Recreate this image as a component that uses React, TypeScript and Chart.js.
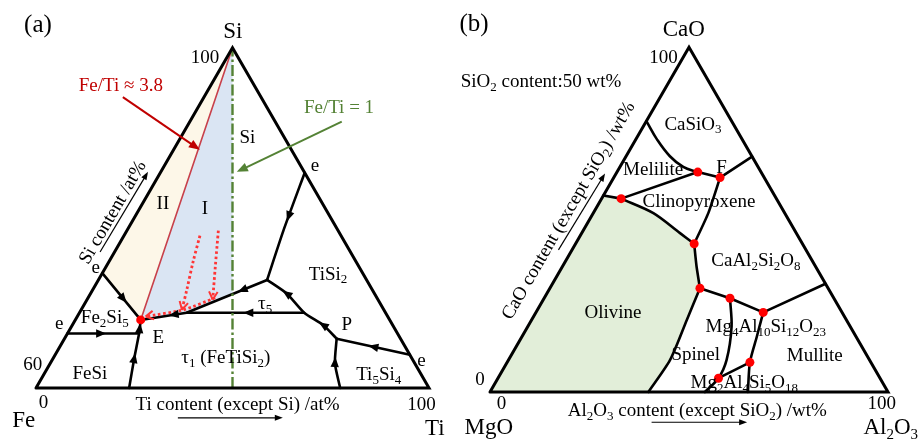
import React, { useEffect, useRef } from "react";
import { Chart, registerables } from "chart.js";

Chart.register(...registerables);

type Pt = [number, number];
type XY = { x: number; y: number };

const SERIF = '"Liberation Serif", "Times New Roman", serif';
const S3 = Math.sqrt(3) / 2;

const BLACK = "#000000";
const RED_TEXT = "#c00000";
const RED_LINE = "#c8404a";
const RED_PATH = "#ff3535";
const RED_DOT = "#ff0000";
const GREEN = "#548235";
const BLUE_FILL = "#dae5f3";
const CREAM_FILL = "#fdf7e8";
const OLIVINE_FILL = "#e2eed9";

// ===== (a) Fe–Ti–Si, Si-rich corner (Si 60–100 at%) =====
// point = [Ti content except Si (at%), Si content (at%)]
const FE_TI_SI_EDGES: Pt[] = [[0, 60], [100, 60], [50, 100], [0, 60]];
const FE_TI_RATIO_38: Pt[] = [[20.8, 68.0], [20.8, 100]];
const FE_TI_RATIO_1: Pt[] = [[50, 60], [50, 100]];

const E1_TO_E: Pt[] = [[0, 73.5], [20.8, 68.0]];
const E2_TO_FESI: Pt[] = [[0, 66.4], [21.7, 66.4]];
const FESI_TAU1: Pt[] = [[23.7, 60], [22.6, 63.5], [21.7, 66.4], [20.8, 68.0]];
const TAU5_TO_E: Pt[] = [[62.9, 72.7], [35.0, 68.85], [20.8, 68.0]];
const TAU5_TAU1: Pt[] = [[73.4, 68.85], [35.0, 68.85]];
const P_TO_TAU5: Pt[] = [[81.0, 65.8], [78.3, 67.4], [73.4, 68.85], [69.1, 71.1], [62.9, 72.7]];
const E3_TO_P: Pt[] = [[100, 63.9], [81.0, 65.8]];
const TI5SI4_TO_P: Pt[] = [[77.4, 60], [78.1, 62.9], [81.0, 65.8]];
const E4_TO_TAU5: Pt[] = [[100, 85.3], [74.1, 78.5], [62.9, 72.7]];

const SOLIDIFICATION_PATH_1: Pt[] = [[35.0, 77.9], [34.05, 74.8], [33.65, 71.5], [33.3, 69.2]];
const SOLIDIFICATION_PATH_2: Pt[] = [[43.3, 78.5], [43.2, 74.4], [43.2, 70.4]];
const SOLIDIFICATION_PATH_3: Pt[] = [[44.0, 70.6], [34.0, 69.2], [22.0, 68.4]];

const EUTECTIC_E: Pt[] = [[20.8, 68.0]];
const REGION_I: Pt[] = [[50, 100], [20.8, 68.0], [35.0, 68.85], [50, 70.9]];
const REGION_II: Pt[] = [[50, 100], [0, 73.5], [20.8, 68.0]];

// ===== (b) CaO–MgO–Al2O3 section at 50 wt% SiO2 =====
// point = [Al2O3 content except SiO2 (wt%), CaO content except SiO2 (wt%)]
const CMA_EDGES: Pt[] = [[0, 0], [100, 0], [0, 100], [0, 0]];
const CASIO3_ARC: Pt[] = [[0, 78.6], [5.3, 73.3], [11.0, 68.4], [15.9, 65.3], [20.3, 63.8]];
const MELILITE_F: Pt[] = [[20.3, 63.8], [26.7, 62.2]];
const F_TO_EDGE: Pt[] = [[26.7, 62.2], [31.7, 68.3]];
const EDGE_TO_D2: Pt[] = [[0, 57.0], [4.9, 56.1]];
const D2_TO_MELILITE: Pt[] = [[4.9, 56.1], [20.3, 63.8]];
const D2_TO_D3: Pt[] = [[4.9, 56.1], [15.1, 51.9], [24.7, 46.1], [29.8, 43.0]];
const F_TO_D3: Pt[] = [[26.7, 62.2], [28.9, 51.9], [29.8, 43.0]];
const D3_TO_D4: Pt[] = [[29.8, 43.0], [33.7, 36.4], [37.7, 30.1]];
const D4_TO_BASE: Pt[] = [[37.7, 30.1], [39.0, 20.9], [40.6, 9.3], [39.8, 0]];
const D4_TO_D6: Pt[] = [[37.7, 30.1], [46.7, 27.2], [57.1, 23.1]];
const D6_TO_EDGE: Pt[] = [[57.1, 23.1], [68.6, 31.4]];
const D5_TO_BASE: Pt[] = [[46.7, 27.2], [51.2, 19.0], [54.8, 9.3], [55.4, 4.0], [54.0, 0]];
const D6_TO_BASE: Pt[] = [[57.1, 23.1], [59.0, 16.1], [61.0, 8.6], [64.8, 0]];
const D8_TO_D7: Pt[] = [[61.0, 8.6], [55.4, 4.0]];
const INVARIANT_POINTS: Pt[] = [
  [20.3, 63.8], [26.7, 62.2], [4.9, 56.1], [29.8, 43.0], [37.7, 30.1],
  [46.7, 27.2], [57.1, 23.1], [61.0, 8.6], [55.4, 4.0],
];
const OLIVINE_FIELD: Pt[] = [
  [0, 0], [0, 57.0], [4.9, 56.1], [15.1, 51.9], [24.7, 46.1], [29.8, 43.0],
  [33.7, 36.4], [37.7, 30.1], [39.0, 20.9], [40.6, 9.3], [39.8, 0],
];

// ---------- projections onto an equilateral triangle of unit side ----------
const feTiSiXY = ([ti, si]: Pt): XY => {
  const h = (si - 60) / 40;
  return { x: (ti / 100) * (1 - h) + 0.5 * h, y: h * S3 };
};
const cmaXY = ([al, ca]: Pt): XY => {
  const c = ca / 100;
  return { x: al / 100 + 0.5 * c, y: c * S3 };
};

type LineSpec = { pts: Pt[]; color: string; width: number; dash?: number[]; tension?: number; join?: CanvasLineJoin; cap?: CanvasLineCap };
type FlowSpec = { pts: Pt[]; at: number[] };
type PolySpec = { pts: Pt[]; color: string };
type AnnotSpec = { from: [number, number]; to: [number, number]; color: string; width: number; head: number; half: number };
type LabelSpec = { text: string; x: number; y: number; size?: number; color?: string; rot?: number };

type PanelSpec = {
  width: number; height: number; left: number;
  originX: number; baseY: number; side: number;
  toXY: (p: Pt) => XY;
  polys: PolySpec[];
  lines: LineSpec[];
  flows: FlowSpec[];
  paths: Pt[][];
  dots: Pt[];
  dotRadius: number;
  annots: AnnotSpec[];
  labels: LabelSpec[];
};

const boundary = (pts: Pt[], tension = 0.2): LineSpec => ({ pts, color: BLACK, width: 2.6, tension });

const PANEL_A: PanelSpec = {
  width: 460, height: 440, left: 0,
  originX: 36, baseY: 388, side: 393,
  toXY: feTiSiXY,
  polys: [
    { pts: REGION_II, color: CREAM_FILL },
    { pts: REGION_I, color: BLUE_FILL },
  ],
  lines: [
    { pts: FE_TI_RATIO_38, color: RED_LINE, width: 1.6 },
    boundary(E1_TO_E, 0),
    boundary(E2_TO_FESI, 0),
    boundary(FESI_TAU1),
    boundary(TAU5_TO_E, 0),
    boundary(TAU5_TAU1, 0),
    boundary(P_TO_TAU5),
    boundary(E3_TO_P, 0),
    boundary(TI5SI4_TO_P),
    boundary(E4_TO_TAU5),
    { pts: FE_TI_RATIO_1, color: GREEN, width: 2.4, dash: [11, 3, 2.5, 3], cap: "butt" },
    { pts: SOLIDIFICATION_PATH_1, color: RED_PATH, width: 2.8, dash: [2.6, 2.6], tension: 0.3, cap: "butt" },
    { pts: SOLIDIFICATION_PATH_2, color: RED_PATH, width: 2.8, dash: [2.6, 2.6], tension: 0.3, cap: "butt" },
    { pts: SOLIDIFICATION_PATH_3, color: RED_PATH, width: 2.8, dash: [2.6, 2.6], tension: 0.2, cap: "butt" },
    { pts: FE_TI_SI_EDGES, color: BLACK, width: 3, join: "miter" },
  ],
  flows: [
    { pts: E1_TO_E, at: [0.55] },
    { pts: E2_TO_FESI, at: [0.47] },
    { pts: FESI_TAU1, at: [0.44, 0.88] },
    { pts: TAU5_TO_E, at: [0.2, 0.75] },
    { pts: TAU5_TAU1, at: [0.475] },
    { pts: P_TO_TAU5, at: [0.21, 0.74] },
    { pts: E3_TO_P, at: [0.5] },
    { pts: TI5SI4_TO_P, at: [0.53] },
    { pts: E4_TO_TAU5, at: [0.41] },
  ],
  paths: [SOLIDIFICATION_PATH_1, SOLIDIFICATION_PATH_2, SOLIDIFICATION_PATH_3],
  dots: EUTECTIC_E,
  dotRadius: 4.5,
  annots: [
    { from: [0.221, 0.74], to: [0.417, 0.606], color: RED_TEXT, width: 2, head: 11, half: 4.5 },
    { from: [0.778, 0.678], to: [0.511, 0.55], color: GREEN, width: 2, head: 11, half: 4.5 },
    { from: [0.163, 0.346], to: [0.285, 0.55], color: BLACK, width: 1.2, head: 8, half: 3 },
    { from: [0.361, -0.076], to: [0.628, -0.076], color: BLACK, width: 1.2, head: 8, half: 3 },
  ],
  labels: [
    { text: "(a)", x: 0.005, y: 0.926, size: 25 },
    { text: "Si", x: 0.501, y: 0.911, size: 23 },
    { text: "100", x: 0.43, y: 0.843 },
    { text: "Fe/Ti ≈ 3.8", x: 0.216, y: 0.771, color: RED_TEXT },
    { text: "Fe/Ti = 1", x: 0.771, y: 0.715, color: GREEN },
    { text: "Si", x: 0.538, y: 0.64 },
    { text: "e", x: 0.71, y: 0.567 },
    { text: "II", x: 0.323, y: 0.471 },
    { text: "I", x: 0.43, y: 0.458 },
    { text: "e", x: 0.152, y: 0.309 },
    { text: "Fe_{2}Si_{5}", x: 0.175, y: 0.181 },
    { text: "e", x: 0.059, y: 0.166 },
    { text: "E", x: 0.311, y: 0.131 },
    { text: "τ_{5}", x: 0.583, y: 0.216 },
    { text: "TiSi_{2}", x: 0.743, y: 0.292 },
    { text: "P", x: 0.791, y: 0.163 },
    { text: "e", x: 0.981, y: 0.071 },
    { text: "τ_{1} (FeTiSi_{2})", x: 0.483, y: 0.08 },
    { text: "FeSi", x: 0.137, y: 0.039 },
    { text: "Ti_{5}Si_{4}", x: 0.872, y: 0.036 },
    { text: "60", x: -0.008, y: 0.063 },
    { text: "0", x: 0.019, y: -0.035 },
    { text: "100", x: 0.981, y: -0.039 },
    { text: "Ti content (except Si) /at%", x: 0.513, y: -0.039 },
    { text: "Fe", x: -0.031, y: -0.081, size: 23 },
    { text: "Ti", x: 1.015, y: -0.1, size: 23 },
    { text: "Si content /at%", x: 0.193, y: 0.448, rot: -60 },
  ],
};

const PANEL_B: PanelSpec = {
  width: 459, height: 440, left: 460,
  originX: 30, baseY: 392, side: 398,
  toXY: cmaXY,
  polys: [{ pts: OLIVINE_FIELD, color: OLIVINE_FILL }],
  lines: [
    boundary(CASIO3_ARC, 0.4),
    boundary(MELILITE_F, 0),
    boundary(F_TO_EDGE, 0),
    boundary(EDGE_TO_D2, 0),
    boundary(D2_TO_MELILITE, 0),
    boundary(D2_TO_D3, 0.3),
    boundary(F_TO_D3, 0.2),
    boundary(D3_TO_D4, 0.2),
    boundary(D4_TO_BASE, 0.25),
    boundary(D4_TO_D6, 0),
    boundary(D6_TO_EDGE, 0),
    boundary(D5_TO_BASE, 0.3),
    boundary(D6_TO_BASE, 0.25),
    boundary(D8_TO_D7, 0),
    { pts: CMA_EDGES, color: BLACK, width: 3, join: "miter" },
  ],
  flows: [],
  paths: [],
  dots: INVARIANT_POINTS,
  dotRadius: 4.5,
  annots: [
    { from: [0.172, 0.357], to: [0.289, 0.549], color: BLACK, width: 1.2, head: 8, half: 3 },
    { from: [0.406, -0.076], to: [0.646, -0.076], color: BLACK, width: 1.2, head: 8, half: 3 },
  ],
  labels: [
    { text: "(b)", x: -0.04, y: 0.927, size: 25 },
    { text: "CaO", x: 0.487, y: 0.914, size: 23 },
    { text: "100", x: 0.436, y: 0.843 },
    { text: "SiO_{2} content:50 wt%", x: 0.128, y: 0.781 },
    { text: "CaO content (except SiO_{2}) /wt%", x: 0.195, y: 0.457, rot: -60 },
    { text: "0", x: -0.025, y: 0.034 },
    { text: "0", x: 0.029, y: -0.027 },
    { text: "100", x: 0.984, y: -0.027 },
    { text: "Al_{2}O_{3} content (except SiO_{2}) /wt%", x: 0.521, y: -0.045 },
    { text: "MgO", x: -0.003, y: -0.087, size: 23 },
    { text: "Al_{2}O_{3}", x: 1.007, y: -0.087, size: 23 },
    { text: "CaSiO_{3}", x: 0.51, y: 0.675 },
    { text: "Melilite", x: 0.41, y: 0.56 },
    { text: "F", x: 0.582, y: 0.566 },
    { text: "Clinopyroxene", x: 0.525, y: 0.481 },
    { text: "CaAl_{2}Si_{2}O_{8}", x: 0.668, y: 0.333 },
    { text: "Olivine", x: 0.309, y: 0.202 },
    { text: "Mg_{4}Al_{10}Si_{12}O_{23}", x: 0.693, y: 0.166 },
    { text: "Spinel", x: 0.517, y: 0.097 },
    { text: "Mullite", x: 0.816, y: 0.093 },
    { text: "Mg_{2}Al_{4}Si_{5}O_{18}", x: 0.639, y: 0.026 },
  ],
};

// ---------- drawing helpers ----------
type Seg = { t: string; sub: boolean; w: number };

function splitRich(s: string): Seg[] {
  const out: Seg[] = [];
  const re = /_\{([^}]*)\}/g;
  let last = 0;
  let m: RegExpExecArray | null;
  while ((m = re.exec(s))) {
    if (m.index > last) out.push({ t: s.slice(last, m.index), sub: false, w: 0 });
    out.push({ t: m[1], sub: true, w: 0 });
    last = re.lastIndex;
  }
  if (last < s.length) out.push({ t: s.slice(last), sub: false, w: 0 });
  return out;
}

function drawRich(ctx: CanvasRenderingContext2D, s: string, cx: number, cy: number, size: number, color: string) {
  const segs = splitRich(s);
  const big = `${size}px ${SERIF}`;
  const small = `${Math.round(size * 0.66)}px ${SERIF}`;
  let total = 0;
  for (const g of segs) {
    ctx.font = g.sub ? small : big;
    g.w = ctx.measureText(g.t).width;
    total += g.w;
  }
  let x = cx - total / 2;
  const base = cy + size * 0.33;
  ctx.fillStyle = color;
  ctx.textAlign = "left";
  ctx.textBaseline = "alphabetic";
  for (const g of segs) {
    ctx.font = g.sub ? small : big;
    ctx.fillText(g.t, x, g.sub ? base + size * 0.2 : base);
    x += g.w;
  }
}

function tipHead(ctx: CanvasRenderingContext2D, x: number, y: number, ang: number, len: number, half: number, color: string) {
  ctx.save();
  ctx.translate(x, y);
  ctx.rotate(ang);
  ctx.fillStyle = color;
  ctx.beginPath();
  ctx.moveTo(0, 0);
  ctx.lineTo(-len, half);
  ctx.lineTo(-len, -half);
  ctx.closePath();
  ctx.fill();
  ctx.restore();
}

function alongPolyline(pix: XY[], t: number) {
  const lens: number[] = [];
  let total = 0;
  for (let i = 1; i < pix.length; i++) {
    const l = Math.hypot(pix[i].x - pix[i - 1].x, pix[i].y - pix[i - 1].y);
    lens.push(l);
    total += l;
  }
  let target = t * total;
  for (let i = 0; i < lens.length; i++) {
    if (target <= lens[i] || i === lens.length - 1) {
      const f = Math.min(1, target / lens[i]);
      const a = pix[i], b = pix[i + 1];
      return { x: a.x + (b.x - a.x) * f, y: a.y + (b.y - a.y) * f, ang: Math.atan2(b.y - a.y, b.x - a.x) };
    }
    target -= lens[i];
  }
  return { x: pix[0].x, y: pix[0].y, ang: 0 };
}

function makeOverlay(spec: PanelSpec) {
  return {
    id: "ternaryOverlay",
    beforeDatasetsDraw(chart: Chart) {
      const { ctx, scales } = chart;
      const px = (p: XY) => ({ x: scales.x.getPixelForValue(p.x), y: scales.y.getPixelForValue(p.y) });
      ctx.save();
      for (const poly of spec.polys) {
        const pix = poly.pts.map((p) => px(spec.toXY(p)));
        ctx.fillStyle = poly.color;
        ctx.beginPath();
        pix.forEach((q, i) => (i ? ctx.lineTo(q.x, q.y) : ctx.moveTo(q.x, q.y)));
        ctx.closePath();
        ctx.fill();
      }
      ctx.restore();
    },
    afterDatasetsDraw(chart: Chart) {
      const { ctx, scales } = chart;
      const px = (p: XY) => ({ x: scales.x.getPixelForValue(p.x), y: scales.y.getPixelForValue(p.y) });
      ctx.save();
      // flow direction along the boundary curves
      for (const f of spec.flows) {
        const pix = f.pts.map((p) => px(spec.toXY(p)));
        for (const t of f.at) {
          const q = alongPolyline(pix, t);
          const len = 10;
          tipHead(ctx, q.x + Math.cos(q.ang) * len / 2, q.y + Math.sin(q.ang) * len / 2, q.ang, len, 4.2, BLACK);
        }
      }
      // open heads at the end of the solidification paths
      for (const path of spec.paths) {
        const pix = path.map((p) => px(spec.toXY(p)));
        const a = pix[pix.length - 2], b = pix[pix.length - 1];
        const ang = Math.atan2(b.y - a.y, b.x - a.x);
        ctx.strokeStyle = RED_PATH;
        ctx.lineWidth = 2;
        ctx.beginPath();
        for (const s of [-1, 1]) {
          ctx.moveTo(b.x, b.y);
          ctx.lineTo(b.x - 9 * Math.cos(ang + s * 0.5), b.y - 9 * Math.sin(ang + s * 0.5));
        }
        ctx.stroke();
      }
      // pointer arrows
      for (const an of spec.annots) {
        const a = px({ x: an.from[0], y: an.from[1] });
        const b = px({ x: an.to[0], y: an.to[1] });
        const ang = Math.atan2(b.y - a.y, b.x - a.x);
        ctx.strokeStyle = an.color;
        ctx.lineWidth = an.width;
        ctx.beginPath();
        ctx.moveTo(a.x, a.y);
        ctx.lineTo(b.x - Math.cos(ang) * an.head * 0.8, b.y - Math.sin(ang) * an.head * 0.8);
        ctx.stroke();
        tipHead(ctx, b.x, b.y, ang, an.head, an.half, an.color);
      }
      // text
      for (const lb of spec.labels) {
        const p = px({ x: lb.x, y: lb.y });
        const size = lb.size ?? 19;
        const color = lb.color ?? BLACK;
        if (lb.rot) {
          ctx.save();
          ctx.translate(p.x, p.y);
          ctx.rotate((lb.rot * Math.PI) / 180);
          drawRich(ctx, lb.text, 0, 0, size, color);
          ctx.restore();
        } else {
          drawRich(ctx, lb.text, p.x, p.y, size, color);
        }
      }
      ctx.restore();
    },
  };
}

function TernaryPanel({ spec }: { spec: PanelSpec }) {
  const ref = useRef<HTMLCanvasElement>(null);
  useEffect(() => {
    const canvas = ref.current;
    if (!canvas) return;
    const n = spec.lines.length;
    const datasets: any[] = [
      {
        data: spec.dots.map(spec.toXY),
        showLine: false,
        pointRadius: spec.dotRadius,
        pointBackgroundColor: RED_DOT,
        pointBorderWidth: 0,
        order: 0,
      },
      ...spec.lines.map((l, i) => ({
        data: l.pts.map(spec.toXY),
        showLine: true,
        borderColor: l.color,
        borderWidth: l.width,
        borderDash: l.dash ?? [],
        borderCapStyle: l.cap ?? "round",
        borderJoinStyle: l.join ?? "round",
        tension: l.tension ?? 0,
        pointRadius: 0,
        pointHitRadius: 0,
        fill: false,
        order: n - i + 1,
      })),
    ];
    const chart = new Chart(canvas, {
      type: "scatter",
      data: { datasets },
      options: {
        animation: false,
        responsive: false,
        maintainAspectRatio: false,
        events: [],
        layout: { padding: 0, autoPadding: false },
        plugins: { legend: { display: false }, tooltip: { enabled: false } },
        scales: {
          x: { type: "linear", display: false, min: -spec.originX / spec.side, max: (spec.width - spec.originX) / spec.side },
          y: { type: "linear", display: false, min: -(spec.height - spec.baseY) / spec.side, max: spec.baseY / spec.side },
        },
      },
      plugins: [makeOverlay(spec)],
    });
    return () => chart.destroy();
  }, [spec]);
  return (
    <canvas
      ref={ref}
      width={spec.width}
      height={spec.height}
      style={{ position: "absolute", left: spec.left, top: 0, width: spec.width, height: spec.height }}
    />
  );
}

export default function App() {
  return (
    <div style={{ position: "fixed", left: 0, top: 0, width: 919, height: 440, background: "#ffffff", overflow: "hidden" }}>
      <TernaryPanel spec={PANEL_A} />
      <TernaryPanel spec={PANEL_B} />
    </div>
  );
}
